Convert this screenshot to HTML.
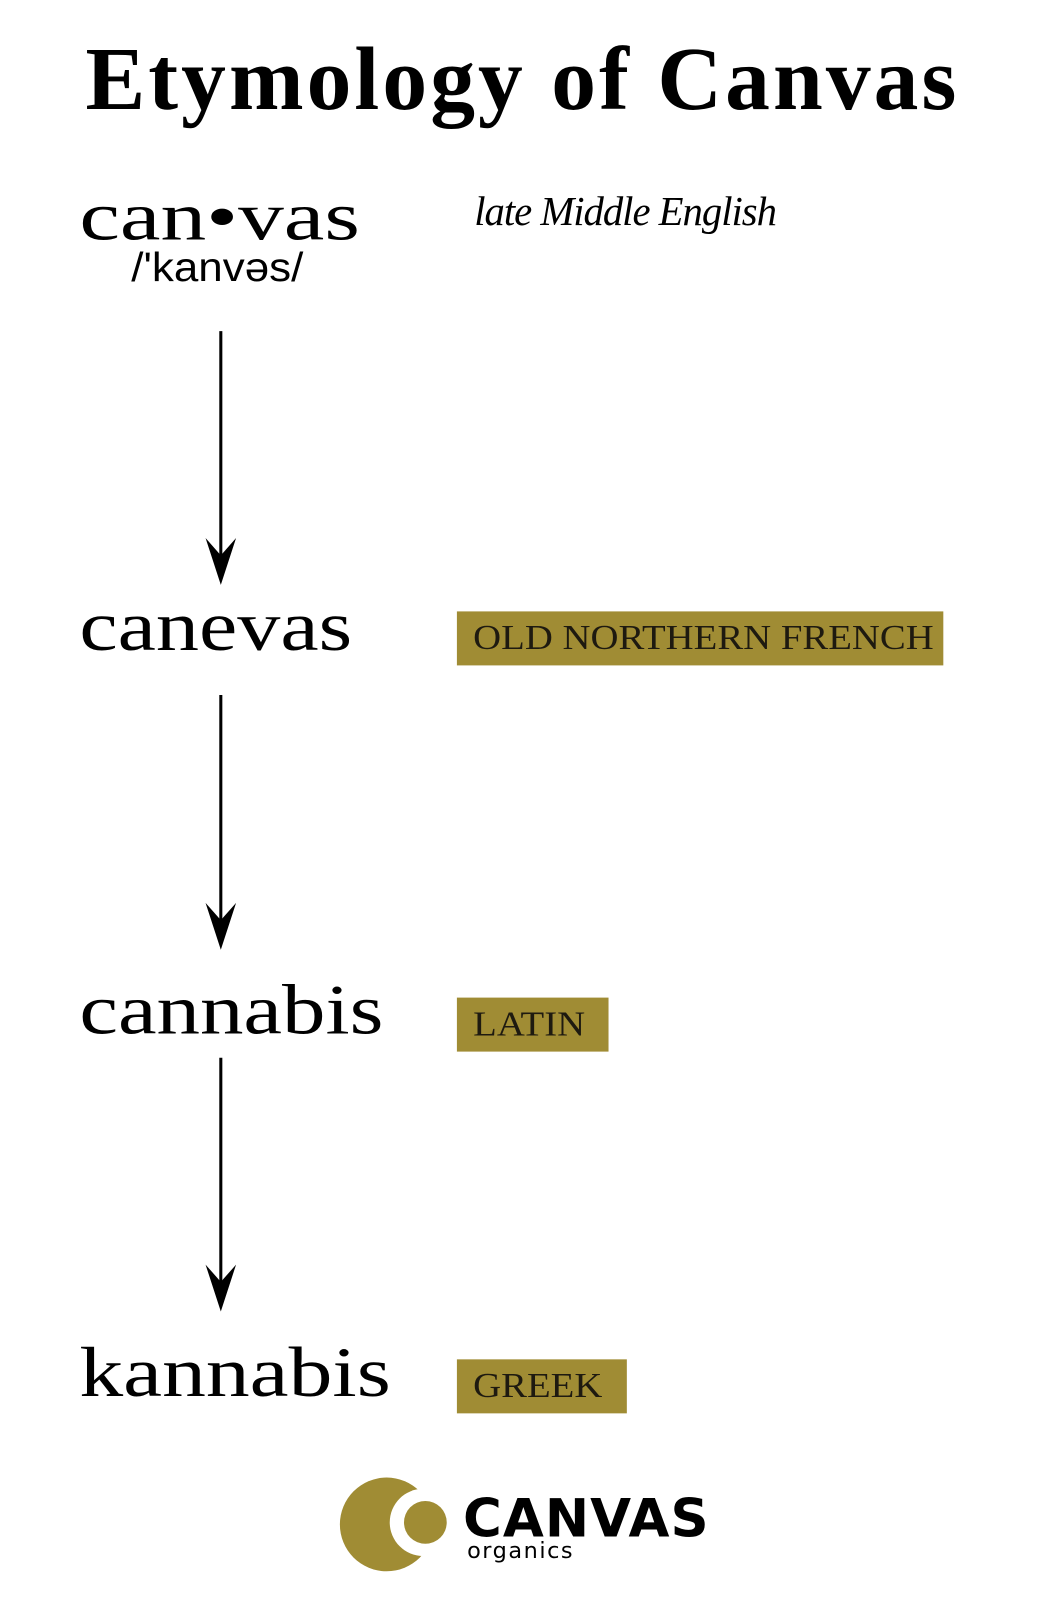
<!DOCTYPE html>
<html><head><meta charset="utf-8"><style>
html,body{margin:0;padding:0;background:#fff;}
body{width:1042px;height:1610px;overflow:hidden;position:relative;}
#w{position:absolute;left:0;top:0;width:1024px;height:1580px;transform:scale(1.0176,1.019);transform-origin:0 0;}
.t{position:absolute;white-space:nowrap;line-height:1;transform-origin:0 0;}
.serif{font-family:"Liberation Serif",serif;}
.box{position:absolute;background:#a08c34;}
.lab{position:absolute;font-family:"Liberation Serif",serif;font-size:34px;color:#1e1a10;white-space:nowrap;line-height:1;transform-origin:0 0;}
</style></head><body><div id="w">
<div class="t serif" style="left:84px;top:35px;font-size:88px;font-weight:bold;letter-spacing:3px;">Etymology of Canvas</div>
<div class="t serif" style="left:78px;top:178px;font-size:68px;transform:scaleX(1.32);">can•vas</div>
<div class="t" style="left:129px;top:243px;font-family:'Liberation Sans',sans-serif;font-size:40px;transform:scaleX(1.08);">/'kanvəs/</div>
<div class="t serif" style="left:466px;top:188px;font-size:40px;font-style:italic;letter-spacing:-1px;">late Middle English</div>

<svg style="position:absolute;left:0;top:0" width="1024" height="1580">
<g stroke="#000" stroke-width="3" fill="#000">
<line x1="217" y1="325" x2="217" y2="560"/>
<path d="M202 528 L217 574 L232 528 L217 545 Z" stroke="none"/>
<line x1="217" y1="682" x2="217" y2="918"/>
<path d="M202 886 L217 932 L232 886 L217 903 Z" stroke="none"/>
<line x1="217" y1="1038" x2="217" y2="1273"/>
<path d="M202 1241 L217 1287 L232 1241 L217 1258 Z" stroke="none"/>
</g>
<circle cx="380" cy="1496" r="46" fill="#a08c34"/>
<circle cx="416" cy="1494" r="33" fill="#fff"/>
<circle cx="418" cy="1494" r="21" fill="#a08c34"/>
</svg>

<div class="t serif" style="left:78px;top:581px;font-size:70px;transform:scaleX(1.21);">canevas</div>
<div class="box" style="left:449px;top:600px;width:478px;height:53px;"></div>
<div class="lab" style="left:465px;top:610px;transform:scaleX(1.12);">OLD NORTHERN FRENCH</div>

<div class="t serif" style="left:78px;top:957px;font-size:70px;transform:scaleX(1.22);">cannabis</div>
<div class="box" style="left:449px;top:979px;width:149px;height:53px;"></div>
<div class="lab" style="left:465px;top:989px;transform:scaleX(1.12);">LATIN</div>

<div class="t serif" style="left:78px;top:1313px;font-size:70px;transform:scaleX(1.23);">kannabis</div>
<div class="box" style="left:449px;top:1334px;width:167px;height:53px;"></div>
<div class="lab" style="left:465px;top:1344px;transform:scaleX(1.12);">GREEK</div>

<div class="t" style="left:455px;top:1465px;font-family:'DejaVu Sans',sans-serif;font-weight:bold;font-size:52px;letter-spacing:1px;">CANVAS</div>
<div class="t" style="left:459px;top:1512px;font-family:'DejaVu Sans',sans-serif;font-size:22px;letter-spacing:1.5px;">organics</div>
</div></body></html>
